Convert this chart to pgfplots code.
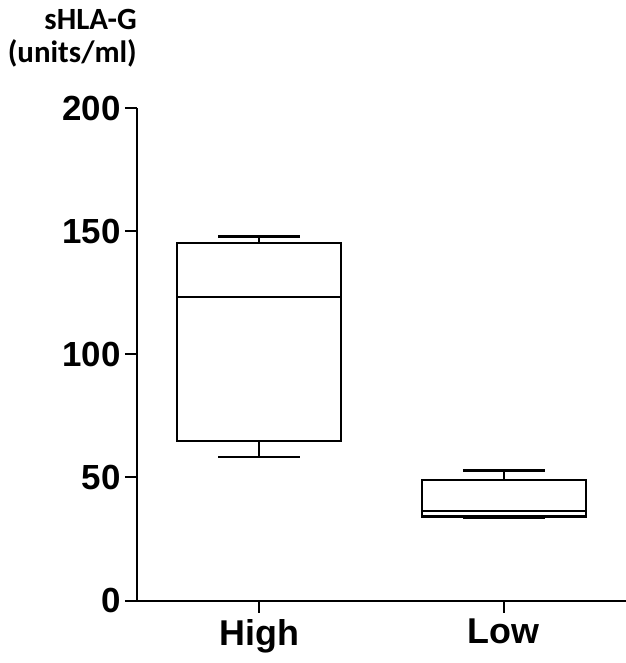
\documentclass[border=0pt]{standalone}
\usepackage{fontspec}
\setmainfont{Liberation Sans}
\newfontfamily\calibri{Carlito}
\usepackage{pgfplots}
\pgfplotsset{compat=1.18}
\usetikzlibrary{calc}
\pgfplotsset{bx/.style={black, line width=2.2bp, mark=none, solid}}
\begin{document}
\begin{tikzpicture}
\begin{axis}[
  scale only axis,
  width=489bp, height=492.5bp,
  xmin=0.5, xmax=2.5,
  ymin=0, ymax=200,
  axis lines*=left,
  axis line style={line width=2bp, black},
  tick style={line width=2bp, black},
  major tick length=12bp,
  tick align=outside,
  xtick={1,2}, xticklabels={High,Low},
  ytick={0,50,100,150,200},
  minor tick num=0,
  /pgf/number format/assume math mode=true,
  yticklabel style={font=\fontsize{35}{35}\selectfont\bfseries, xshift=-1bp},
  xticklabel style={font=\fontsize{36}{36}\selectfont\bfseries, yshift=-3bp},
  clip=false,
]
\coordinate (sw) at (rel axis cs:0,0);
% High: whisker low 58.3, Q1 64.8, median 123.4, Q3 145.3, whisker high 147.8
\addplot[bx] coordinates {(0.665,64.8) (1.335,64.8) (1.335,145.3) (0.665,145.3) (0.665,64.8) (1.335,64.8)};
\addplot[bx] coordinates {(0.665,123.4) (1.335,123.4)};
\addplot[bx] coordinates {(1,145.3) (1,147.8)};
\addplot[bx] coordinates {(0.8325,147.8) (1.1675,147.8)};
\addplot[bx] coordinates {(1,64.8) (1,58.3)};
\addplot[bx] coordinates {(0.8325,58.3) (1.1675,58.3)};
% Low: whisker low 33.5, Q1 34.1, median 36.4, Q3 49.0, whisker high 52.8
\addplot[bx] coordinates {(1.665,34.1) (2.335,34.1) (2.335,49.0) (1.665,49.0) (1.665,34.1) (2.335,34.1)};
\addplot[bx] coordinates {(1.665,36.4) (2.335,36.4)};
\addplot[bx] coordinates {(2,49.0) (2,52.8)};
\addplot[bx] coordinates {(1.8325,52.8) (2.1675,52.8)};
\addplot[bx] coordinates {(2,34.1) (2,33.5)};
\addplot[bx] coordinates {(1.8325,33.5) (2.1675,33.5)};
\end{axis}
\node[anchor=base east, inner sep=0pt, font=\calibri\bfseries\fontsize{31}{31}\selectfont] at ($(sw)+(0bp,570.5bp)$) {sHLA-G};
\node[anchor=base east, inner sep=0pt, font=\calibri\bfseries\fontsize{31}{31}\selectfont] at ($(sw)+(0bp,537.5bp)$) {(units/ml)};
\pgfresetboundingbox
\path[use as bounding box] ($(sw)+(-137bp,-62.5bp)$) rectangle ($(sw)+(489bp,600.5bp)$);
\end{tikzpicture}
\end{document}
